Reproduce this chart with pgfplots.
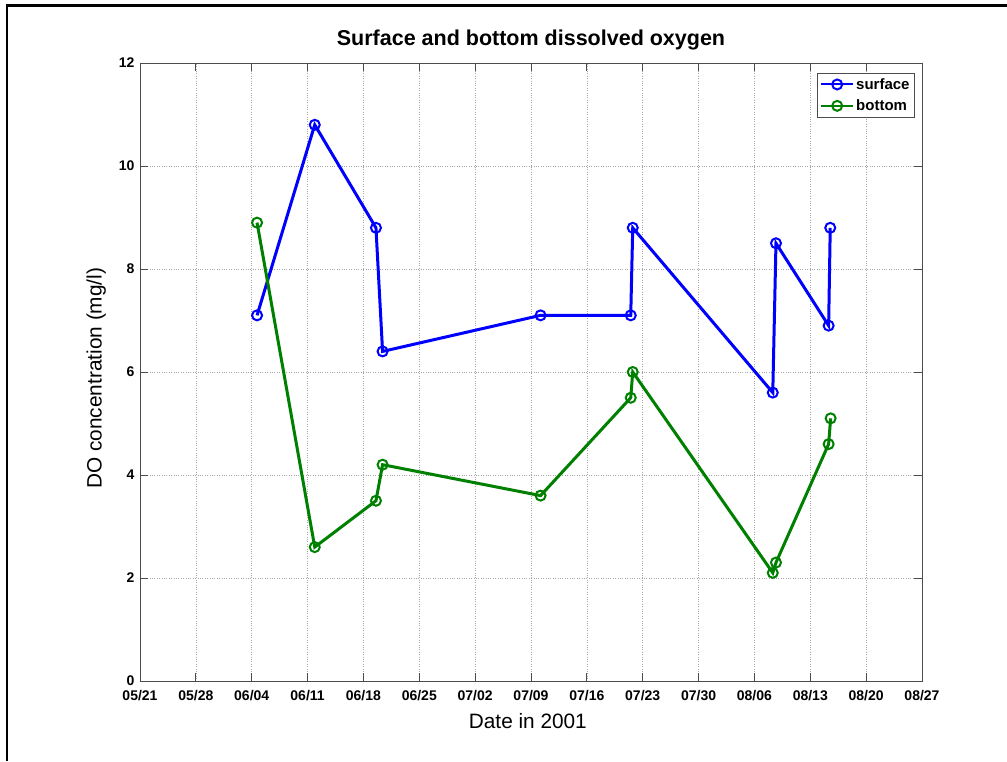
\documentclass[border=0pt]{standalone}
\usepackage{fontspec}
\setmainfont{Liberation Sans}
\usepackage{pgfplots}
\pgfplotsset{compat=1.18}
\definecolor{mblue}{rgb}{0,0,1}
\definecolor{mgreen}{rgb}{0,0.5,0}
\begin{document}
\begin{tikzpicture}
\useasboundingbox (-140pt,-80pt) rectangle (867pt,681pt);
\begin{axis}[
  at={(0pt,0pt)}, anchor=south west,
  scale only axis, width=782pt, height=618pt,
  xmin=0, xmax=98, ymin=0, ymax=12,
  xtick={0,7,...,98},
  xticklabels={05/21,05/28,06/04,06/11,06/18,06/25,07/02,07/09,07/16,07/23,07/30,08/06,08/13,08/20,08/27},
  ytick={0,2,...,12},
  /pgf/number format/assume math mode=true,
  ticklabel style={font=\bfseries\fontsize{14}{16}\selectfont},
  xticklabel style={yshift=-6pt},
  yticklabel style={xshift=-2pt},
  grid=major,
  major grid style={dotted, gray!70, line width=0.6pt},
  axis line style={black!70, line width=0.9pt},
  tick align=inside,
  major tick length=8pt,
  tick style={black!70, line width=0.8pt},
  title={Surface and bottom dissolved oxygen},
  title style={font=\bfseries\fontsize{21.5}{24}\selectfont, at={(axis description cs:0.5,1)}, anchor=base, yshift=11.3pt},
  xlabel={Date in 2001},
  xlabel style={font=\fontsize{20.8}{24}\selectfont, at={(axis description cs:0.496,0)}, anchor=base, yshift=-47pt},
  ylabel={DO concentration (mg/l)},
  ylabel style={font=\fontsize{20.8}{24}\selectfont, at={(axis description cs:-0.049,0.49)}, anchor=base},
  legend style={at={(axis description cs:0.991,0.984)}, anchor=north east, draw=black!70, line width=0.8pt,
    font=\bfseries\fontsize{15}{18}\selectfont, inner xsep=3pt, inner ysep=3pt, row sep=5pt, cells={anchor=west}, fill=white},
  legend image code/.code={\draw[mark repeat=2,mark phase=2,line width=2pt] plot coordinates {(0pt,0pt) (16pt,0pt) (32pt,0pt)};},
]
\addplot[mblue, line width=3pt, mark=o, mark size=5pt, mark options={solid, line width=2pt}] coordinates {
(14.67,7.1)(21.9,10.8)(29.57,8.8)(30.4,6.4)(50.2,7.1)(61.5,7.1)(61.75,8.8)(79.3,5.6)(79.7,8.5)(86.3,6.9)(86.5,8.8)
};
\addlegendentry{surface}
\addplot[mgreen, line width=3pt, mark=o, mark size=5pt, mark options={solid, line width=2pt}] coordinates {
(14.67,8.9)(21.9,2.6)(29.57,3.5)(30.4,4.2)(50.2,3.6)(61.5,5.5)(61.75,6.0)(79.3,2.1)(79.7,2.3)(86.3,4.6)(86.55,5.1)
};
\addlegendentry{bottom}
\end{axis}
\draw[line width=2.5pt] (-133pt,-80pt) -- (-133pt,675.3pt) -- (867pt,675.3pt);
\end{tikzpicture}
\end{document}
